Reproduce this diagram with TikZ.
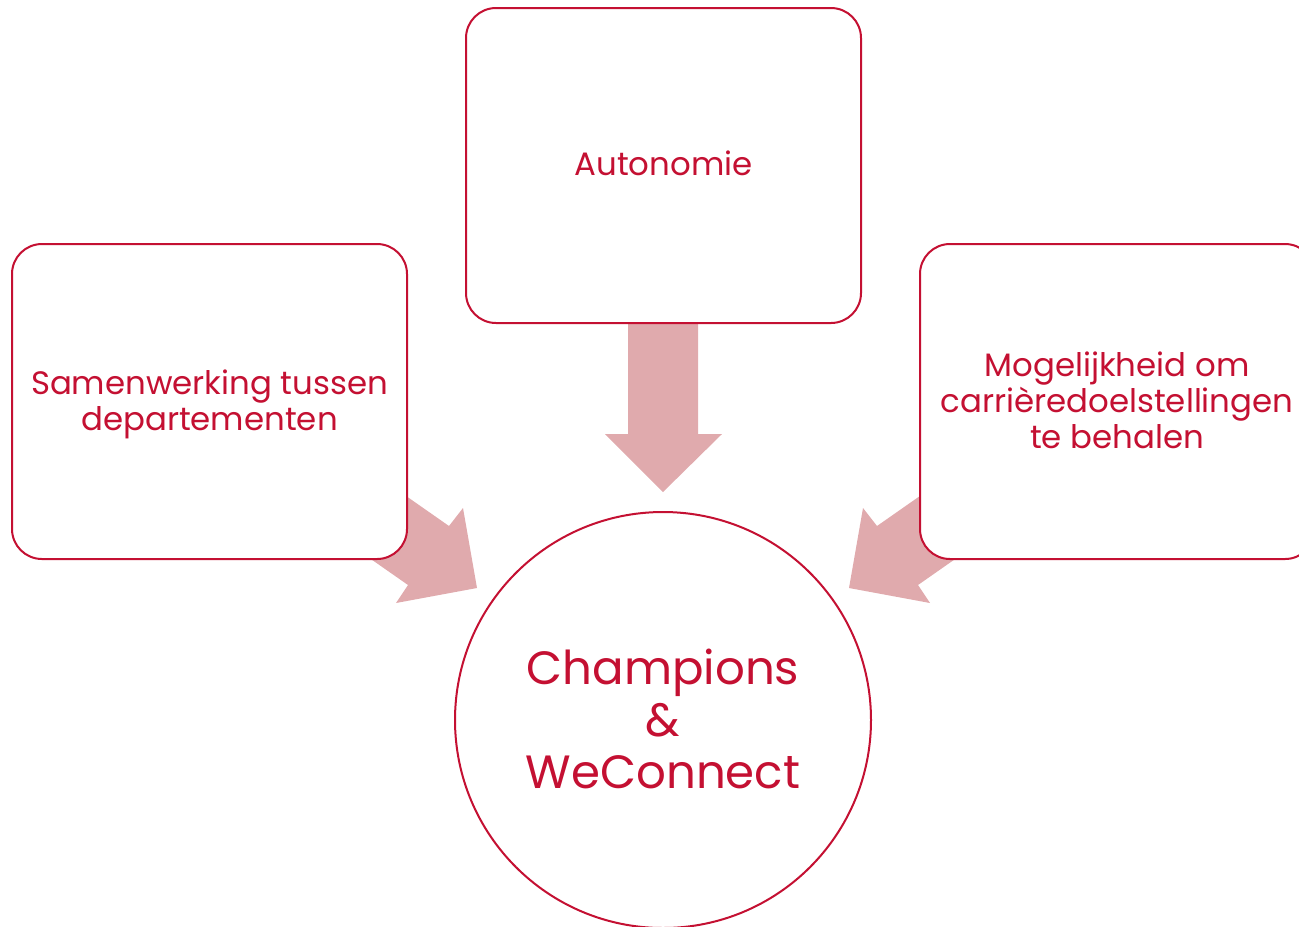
\documentclass[tikz,border=0pt]{standalone}
\usepackage{fontspec}
\setmainfont{Poppins}
\definecolor{crim}{RGB}{196,16,50}
\definecolor{arrowfill}{RGB}{224,170,173}
\begin{document}
\begin{tikzpicture}[x=0.75pt,y=-0.75pt,
  box/.style={draw=crim,line width=1.5pt,fill=white,rounded corners=22.5pt},
  lbl/.style={text=crim,align=center,font=\fontsize{24.3}{27}\selectfont},
  bigarrow/.style={fill=arrowfill,draw=none}]
\useasboundingbox (0,0) rectangle (1299,926);
\begin{scope}
\clip (0,0) rectangle (1299,926);
% arrows (behind the boxes)
\fill[bigarrow] (628,300) -- (698,300) -- (698,434) -- (722,434) -- (663,492) -- (605,434) -- (628,434) -- cycle;
\fill[bigarrow] (326,440) -- (449,526) -- (463,508) -- (477,588) -- (396,603) -- (408,585) -- (285,499) -- cycle;
\fill[bigarrow] (1000,440) -- (877,526) -- (863,508) -- (849,588) -- (930,603) -- (918,585) -- (1041,499) -- cycle;
% boxes
\draw[box] (12,244) rectangle (407,559);
\draw[box] (466,8) rectangle (861,323);
\draw[box] (920,244) rectangle (1315,559);
\node[lbl] (left) at (209.5,404) {Samenwerking tussen\\departementen};
\node[lbl] (top) at (663.5,163) {Autonomie};
\node[lbl] (right) at (1117,400) {Mogelijkheid om\\carrièredoelstellingen\\te behalen};
% circle
\draw[crim,line width=1.5pt,fill=white] (663,720) circle[radius=208];
\node[text=crim,align=center,font=\fontsize{35}{39}\selectfont] (center) at (663,719) {Champions\\\&\\WeConnect};
\end{scope}
\end{tikzpicture}
\end{document}
